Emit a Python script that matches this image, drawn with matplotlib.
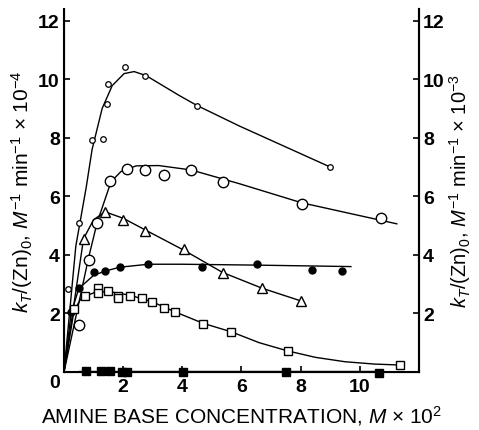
import matplotlib
matplotlib.use("Agg")
import matplotlib.pyplot as plt
from matplotlib import transforms

plt.rcParams['font.family'] = ['Liberation Sans', 'DejaVu Sans']
plt.rcParams['mathtext.fontset'] = 'custom'
plt.rcParams['mathtext.rm'] = 'Liberation Sans'
plt.rcParams['mathtext.it'] = 'Liberation Sans:italic'

# small open circles
a_x = [0.14, 0.5, 0.95, 1.32, 1.46, 1.49, 2.07, 2.75, 4.5, 9.0]
a_y = [2.84, 5.1, 7.93, 7.96, 9.16, 9.85, 10.43, 10.12, 9.1, 7.0]
a_cx = [0, 0.4, 0.54, 0.75, 0.95, 1.29, 1.63, 2.03, 2.37, 2.78, 3.9, 4.5, 5.93, 9.0]
a_cy = [0, 4.3, 5.1, 6.3, 7.6, 9.0, 9.78, 10.19, 10.26, 10.12, 9.44, 9.1, 8.4, 7.0]

# large open circles
b_x = [0.5, 0.83, 1.1, 1.56, 2.13, 2.75, 3.39, 4.3, 5.39, 8.03, 10.7]
b_y = [1.6, 3.83, 5.1, 6.53, 6.94, 6.9, 6.74, 6.9, 6.49, 5.74, 5.26]
b_cx = [0, 0.83, 1.12, 1.59, 1.93, 2.44, 3.2, 4.3, 5.93, 8.03, 11.25]
b_cy = [0, 3.9, 5.1, 6.5, 6.85, 7.04, 7.05, 6.9, 6.43, 5.78, 5.06]

# open triangles
c_x = [0.66, 1.39, 2.0, 2.75, 4.07, 5.36, 6.7, 8.0]
c_y = [4.55, 5.47, 5.2, 4.8, 4.2, 3.38, 2.86, 2.43]
c_cx = [0, 0.66, 1.0, 1.39, 2.0, 2.75, 4.07, 5.36, 6.7, 8.0]
c_cy = [0, 4.55, 5.2, 5.47, 5.25, 4.85, 4.15, 3.4, 2.86, 2.43]

# filled circles
d_x = [0.24, 0.5, 1.02, 1.39, 1.9, 2.85, 4.65, 6.54, 8.4, 9.4]
d_y = [2.05, 2.87, 3.41, 3.46, 3.6, 3.69, 3.6, 3.69, 3.5, 3.45]
d_cx = [0, 0.24, 0.5, 1.0, 1.4, 1.9, 2.85, 4.0, 6.5, 9.7]
d_cy = [0, 2.0, 2.85, 3.3, 3.45, 3.58, 3.68, 3.68, 3.65, 3.6]

# open squares
e_x = [0.34, 0.71, 1.15, 1.15, 1.49, 1.83, 1.83, 2.24, 2.64, 2.98, 3.39, 3.76,
       4.71, 5.66, 7.56, 11.36]
e_y = [2.15, 2.6, 2.87, 2.7, 2.77, 2.6, 2.53, 2.6, 2.53, 2.39, 2.19, 2.05,
       1.64, 1.37, 0.72, 0.24]
e_cx = [0, 0.34, 0.6, 1.0, 1.5, 2.24, 3.0, 3.76, 4.71, 5.66, 6.6, 7.56, 8.5,
        9.5, 10.5, 11.3]
e_cy = [0, 2.1, 2.55, 2.7, 2.75, 2.62, 2.39, 2.05, 1.66, 1.37, 1.0, 0.72, 0.5,
        0.35, 0.27, 0.24]

# filled squares
f_x = [0.74, 1.25, 1.56, 1.97, 2.14, 4.03, 7.49, 10.64]
f_y = [0.02, 0.02, 0.02, 0.0, 0.01, 0.0, 0.0, -0.03]
f_cx = [0.5, 10.8]
f_cy = [0.03, 0.03]

yticks = [0, 2, 4, 6, 8, 10, 12]
xticks = [2, 4, 6, 8, 10]

fig = plt.figure(figsize=(4.79, 4.31), dpi=100)
ax = fig.add_axes([0.1336, 0.1346, 0.7411, 0.8424])

lw = 1.0
ax.plot(a_cx, a_cy, 'k-', lw=lw)
ax.plot(b_cx, b_cy, 'k-', lw=lw)
ax.plot(c_cx, c_cy, 'k-', lw=lw)
ax.plot(d_cx, d_cy, 'k-', lw=lw)
ax.plot(e_cx, e_cy, 'k-', lw=lw)
ax.plot(f_cx, f_cy, 'k-', lw=lw)

ax.plot(a_x, a_y, 'o', ms=4.0, mfc='white', mec='k', mew=0.9, ls='none')
ax.plot(b_x, b_y, 'o', ms=7.5, mfc='white', mec='k', mew=1.0, ls='none')
ax.plot(c_x, c_y, '^', ms=7.0, mfc='white', mec='k', mew=1.0, ls='none')
ax.plot(d_x, d_y, 'o', ms=5.0, mfc='k', mec='k', ls='none')
ax.plot(e_x, e_y, 's', ms=5.6, mfc='white', mec='k', mew=1.0, ls='none')
ax.plot(f_x, f_y, 's', ms=6.3, mfc='k', mec='k', ls='none', clip_on=False)

ax.set_xlim(0, 12)
ax.set_ylim(0, 12.4)
ax.spines['top'].set_visible(False)
for s in ['left', 'right', 'bottom']:
    ax.spines[s].set_linewidth(1.5)

ax.set_xticks(xticks)
ax.set_yticks(yticks)
ax.tick_params(axis='both', direction='in', length=4, width=1.2,
               labelsize=14)
ax.tick_params(axis='x', pad=4)
ax.tick_params(axis='y', pad=3)
for lab in ax.get_xticklabels() + ax.get_yticklabels():
    lab.set_fontweight('bold')
# the zero label sits a little low in the original
zero_lab = ax.get_yticklabels()[0]
zero_lab.set_transform(zero_lab.get_transform() +
                       transforms.ScaledTranslation(0, -9 / 100, fig.dpi_scale_trans))

ax.set_xlabel(r'AMINE BASE CONCENTRATION, $\mathit{M}$ $\times$ 10$^2$',
              fontsize=15, labelpad=6)
ax.set_ylabel(r'$\mathit{k_T}$/(Zn)$_0$, $\mathit{M}^{-1}$ min$^{-1}$ $\times$ 10$^{-4}$',
              fontsize=15, labelpad=2)

ax2 = ax.twinx()
ax2.set_ylim(0, 12.4)
ax2.set_yticks(yticks[1:])
ax2.spines['top'].set_visible(False)
ax2.spines['right'].set_linewidth(1.5)
ax2.tick_params(axis='y', direction='in', length=4, width=1.2, labelsize=14,
                pad=3)
for lab in ax2.get_yticklabels():
    lab.set_fontweight('bold')
ax2.set_ylabel(r'$\mathit{k_T}$/(Zn)$_0$, $\mathit{M}^{-1}$ min$^{-1}$ $\times$ 10$^{-3}$',
               fontsize=14.5, labelpad=2)

fig.savefig('out.png', dpi=100)
